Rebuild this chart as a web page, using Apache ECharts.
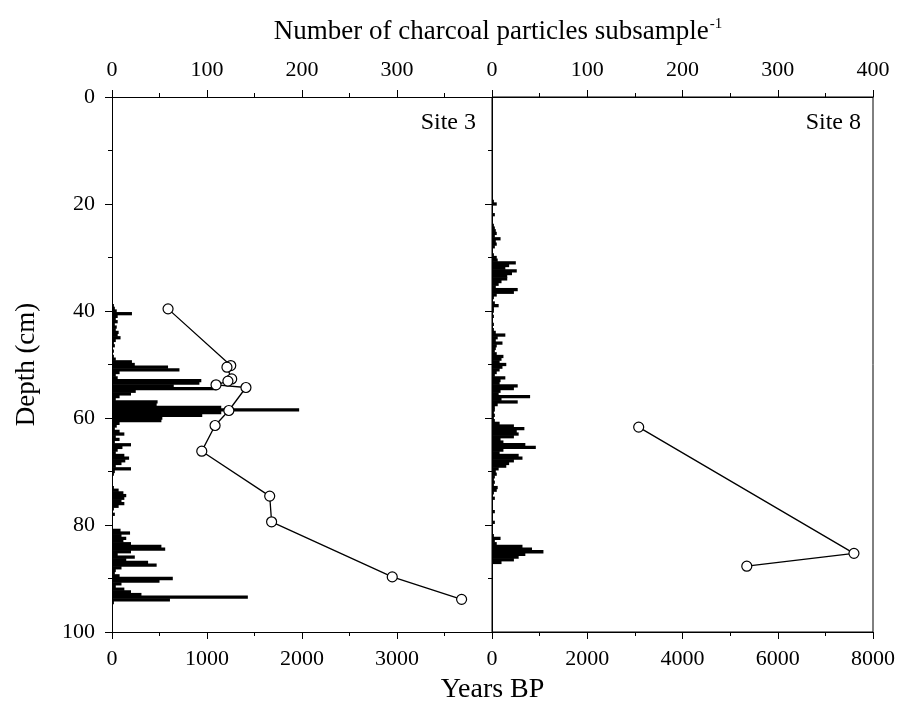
<!DOCTYPE html>
<html>
<head>
<meta charset="utf-8">
<script src="https://cdn.jsdelivr.net/npm/echarts@6/dist/echarts.min.js"></script>
<style>
  html, body { margin: 0; padding: 0; background: #fff; }
  #chart { width: 898px; height: 711px; }
</style>
</head>
<body>
<div id="chart"></div>
<script>
// charcoal counts per 0.5 cm subsample
const site3Depth = [38.5, 39, 39.5, 40, 40.5, 41, 41.5, 42, 42.5, 43, 43.5, 44, 44.5, 45, 45.5, 46, 46.5, 47, 47.5, 48,
    48.5, 49, 49.5, 50, 50.5, 51, 51.5, 52, 52.5, 53, 53.5, 54, 54.5, 55, 55.5, 56, 56.5, 57, 57.5, 58,
    58.5, 59, 59.5, 60, 60.5, 61, 61.5, 62, 62.5, 63, 63.5, 64, 64.5, 65, 65.5, 66, 66.5, 67, 67.5, 68,
    68.5, 69, 69.5, 70, 70.5, 71, 71.5, 72, 72.5, 73, 73.5, 74, 74.5, 75, 75.5, 76, 76.5, 77, 77.5, 78,
    78.5, 79, 79.5, 80, 80.5, 81, 81.5, 82, 82.5, 83, 83.5, 84, 84.5, 85, 85.5, 86, 86.5, 87, 87.5, 88,
    88.5, 89, 89.5, 90, 90.5, 91, 91.5, 92, 92.5, 93, 93.5, 94, 94.5];
const site3Count = [1, 2, 3, 5, 21, 6, 4, 6, 3, 5, 4, 7, 6, 9, 4, 2, 3, 1, 2, 1,
    2, 4, 21, 24, 59, 71, 8, 4, 6, 94, 92, 65, 110, 25, 20, 8, 4, 48, 47, 115,
    197, 115, 95, 53, 52, 8, 5, 3, 8, 13, 4, 8, 3, 20, 11, 6, 4, 13, 18, 14,
    10, 4, 20, 3, 2, 1, 0, 1, 0, 2, 7, 12, 15, 13, 10, 13, 7, 2, 1, 3,
    1, 0, 1, 0, 1, 9, 19, 10, 15, 12, 20, 52, 56, 20, 6, 24, 15, 38, 47, 10,
    4, 3, 8, 64, 50, 10, 4, 13, 20, 31, 143, 61, 2];

const site8Depth = [19.5, 20, 20.5, 21, 21.5, 22, 22.5, 23, 23.5, 24, 24.5, 25, 25.5, 26, 26.5, 27, 27.5, 28, 28.5, 29,
    29.5, 30, 30.5, 31, 31.5, 32, 32.5, 33, 33.5, 34, 34.5, 35, 35.5, 36, 36.5, 37, 37.5, 38, 38.5, 39,
    39.5, 40, 40.5, 41, 41.5, 42, 42.5, 43, 43.5, 44, 44.5, 45, 45.5, 46, 46.5, 47, 47.5, 48, 48.5, 49,
    49.5, 50, 50.5, 51, 51.5, 52, 52.5, 53, 53.5, 54, 54.5, 55, 55.5, 56, 56.5, 57, 57.5, 58, 58.5, 59,
    59.5, 60, 60.5, 61, 61.5, 62, 62.5, 63, 63.5, 64, 64.5, 65, 65.5, 66, 66.5, 67, 67.5, 68, 68.5, 69,
    69.5, 70, 70.5, 71, 71.5, 72, 72.5, 73, 73.5, 74, 74.5, 75, 75.5, 76, 76.5, 77, 77.5, 78, 78.5, 79,
    79.5, 80, 80.5, 81, 81.5, 82, 82.5, 83, 83.5, 84, 84.5, 85, 85.5, 86, 86.5, 87, 87.5];
const site8Count = [2, 5, 1, 0, 1, 3, 1, 0, 1, 2, 3, 4, 5, 3, 9, 4, 5, 3, 1, 1,
    2, 5, 6, 25, 18, 14, 26, 21, 16, 16, 10, 7, 4, 27, 23, 5, 2, 1, 3, 7,
    2, 2, 1, 2, 1, 1, 2, 1, 2, 4, 14, 6, 4, 11, 5, 4, 3, 5, 12, 10,
    8, 15, 11, 8, 5, 3, 14, 9, 8, 27, 23, 9, 7, 40, 10, 27, 6, 3, 3, 2,
    3, 2, 3, 8, 23, 34, 26, 28, 23, 9, 12, 35, 46, 12, 8, 28, 32, 23, 18, 15,
    7, 4, 5, 3, 2, 3, 2, 6, 5, 2, 1, 3, 1, 0, 1, 1, 3, 1, 0, 1,
    3, 1, 0, 0, 1, 2, 9, 3, 5, 32, 42, 54, 35, 28, 23, 10, 1];

// age-depth points
const site3AgeDepth = [39.6, 50.2, 50.5, 52.7, 53.1, 53.8, 54.3, 58.6, 61.4, 66.2, 74.6, 79.4, 89.7, 93.9];
const site3Age = [590, 1250, 1210, 1260, 1220, 1095, 1410, 1230, 1085, 945, 1660, 1680, 2950, 3680];
const site8AgeDepth = [61.7, 85.3, 87.7];
const site8Age = [3080, 7600, 5350];

const FONT = "Liberation Serif";
const HALF = 0.25;

const chart = echarts.init(document.getElementById("chart"));

function pairs(xs, ys) {
    return xs.map((x, i) => [x, ys[i]]);
}

function renderBar(params, api) {
    const count = api.value(0);
    const depth = api.value(1);
    const p0 = api.coord([0, depth - HALF]);
    const p1 = api.coord([count, depth + HALF]);
    return {
        type: "rect",
        // a bit of overlap so neighbouring bars read as one solid block
        shape: { x: p0[0], y: p0[1] - 0.3, width: p1[0] - p0[0], height: p1[1] - p0[1] + 0.6 },
        style: { fill: "#000" }
    };
}

const tickLabel = { color: "#000", fontFamily: FONT, fontSize: 22, formatter: v => String(v) };
const blackLine = { lineStyle: { color: "#000", width: 1 } };

function xAxis(grid, pos, max, interval, hideMax) {
    return {
        type: "value",
        gridIndex: grid,
        position: pos,
        min: 0,
        max: max,
        interval: interval,
        axisLine: { show: true, onZero: false, ...blackLine },
        axisTick: { show: true, length: 7, ...blackLine },
        minorTick: { show: true, splitNumber: 2, length: 4, ...blackLine },
        axisLabel: { ...tickLabel, margin: 16, showMaxLabel: !hideMax },
        splitLine: { show: false }
    };
}

const option = {
    backgroundColor: "#fff",
    animation: false,
    title: {
        text: "{a|Number of charcoal particles subsample}{s|-1}",
        left: 493,
        top: 12,
        textAlign: "center",
        textStyle: {
            fontWeight: "normal",
            rich: {
                a: { fontFamily: FONT, fontSize: 27, fontWeight: "normal", color: "#000" },
                s: { fontFamily: FONT, fontSize: 15, fontWeight: "normal", color: "#000", padding: [0, 0, 14, 1] }
            }
        }
    },
    grid: [
        { left: 112, top: 97, width: 380, height: 535 },
        { left: 492, top: 97, width: 384, height: 535, show: true, borderColor: "#000", borderWidth: 1, backgroundColor: "transparent" }
    ],
    xAxis: [
        { ...xAxis(0, "bottom", 4000, 1000, true) },
        { ...xAxis(0, "top", 400, 100, true) },
        { ...xAxis(1, "bottom", 8000, 2000, false),
            name: "Years BP", nameLocation: "middle", nameGap: 44,
            nameTextStyle: { fontFamily: FONT, fontSize: 28, color: "#000", padding: [0, 380, 0, 0] } },
        { ...xAxis(1, "top", 400, 100, false) }
    ],
    yAxis: [
        {
            type: "value", gridIndex: 0, inverse: true, min: 0, max: 100, interval: 20,
            name: "Depth (cm)", nameLocation: "middle", nameGap: 72, nameRotate: 90,
            nameTextStyle: { fontFamily: FONT, fontSize: 27, color: "#000" },
            axisLine: { show: true, ...blackLine },
            axisTick: { show: true, length: 7, ...blackLine },
            minorTick: { show: true, splitNumber: 2, length: 4, ...blackLine },
            axisLabel: { ...tickLabel, margin: 17 },
            splitLine: { show: false }
        },
        {
            type: "value", gridIndex: 1, inverse: true, min: 0, max: 100, interval: 20,
            axisLine: { show: true, ...blackLine },
            axisTick: { show: true, length: 7, ...blackLine },
            minorTick: { show: true, splitNumber: 2, length: 4, ...blackLine },
            axisLabel: { show: false },
            splitLine: { show: false }
        }
    ],
    graphic: [
        { type: "text", right: 898 - 476, top: 111, style: { text: "Site 3", fontFamily: FONT, fontSize: 24, fill: "#000" } },
        { type: "text", right: 898 - 861, top: 111, style: { text: "Site 8", fontFamily: FONT, fontSize: 24, fill: "#000" } }
    ],
    series: [
        {
            type: "custom", name: "Site 3 charcoal", xAxisIndex: 1, yAxisIndex: 0,
            renderItem: renderBar, encode: { x: 0, y: 1 },
            data: pairs(site3Count, site3Depth), z: 2
        },
        {
            type: "custom", name: "Site 8 charcoal", xAxisIndex: 3, yAxisIndex: 1,
            renderItem: renderBar, encode: { x: 0, y: 1 },
            data: pairs(site8Count, site8Depth), z: 2
        },
        {
            type: "line", name: "Site 3 age", xAxisIndex: 0, yAxisIndex: 0,
            data: pairs(site3Age, site3AgeDepth),
            symbol: "circle", symbolSize: 10,
            itemStyle: { color: "#fff", borderColor: "#000", borderWidth: 1.2 },
            lineStyle: { color: "#000", width: 1.3 }, z: 5
        },
        {
            type: "line", name: "Site 8 age", xAxisIndex: 2, yAxisIndex: 1,
            data: pairs(site8Age, site8AgeDepth),
            symbol: "circle", symbolSize: 10,
            itemStyle: { color: "#fff", borderColor: "#000", borderWidth: 1.2 },
            lineStyle: { color: "#000", width: 1.3 }, z: 5
        }
    ]
};

chart.setOption(option);
</script>
</body>
</html>
